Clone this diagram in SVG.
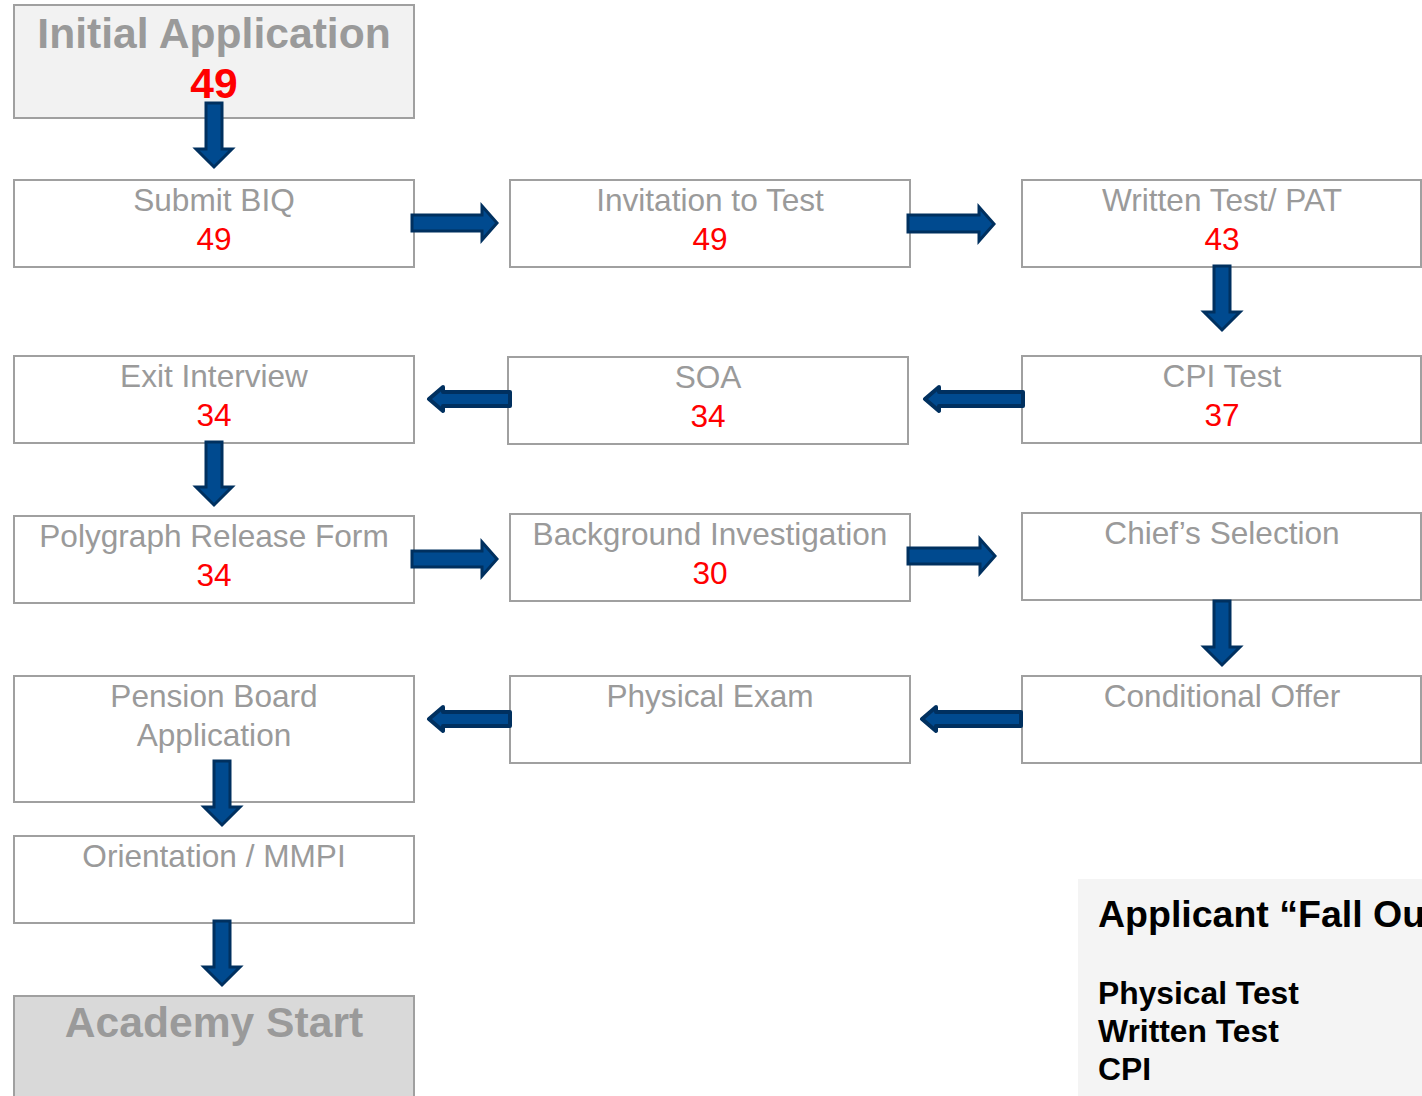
<svg xmlns="http://www.w3.org/2000/svg" width="1422" height="1096" viewBox="0 0 1422 1096">
<style>
.box{fill:#ffffff;stroke:#a0a0a0;stroke-width:2}
.t{font-family:"Liberation Sans",Arial,sans-serif;font-size:31.6px;fill:#9a9a9a;text-anchor:middle}
.n{font-family:"Liberation Sans",Arial,sans-serif;font-size:31.6px;fill:#ff0000;text-anchor:middle}
.tb{font-family:"Liberation Sans",Arial,sans-serif;font-size:42.6px;font-weight:bold;fill:#9a9a9a;text-anchor:middle}
.nb{font-family:"Liberation Sans",Arial,sans-serif;font-size:42.6px;font-weight:bold;fill:#ff0000;text-anchor:middle}
.lg{font-family:"Liberation Sans",Arial,sans-serif;font-weight:bold;fill:#000000}
.arr{fill:#004a8f;stroke:#00305f;stroke-width:3}
.arrl{fill:#004a8f;stroke:#00305f;stroke-width:4;stroke-linejoin:round}
</style>
<rect width="1422" height="1096" fill="#ffffff"/>

<g id="initial-application">
<rect class="box" x="14" y="5" width="400" height="113" style="fill:#f2f2f2"/>
<text class="tb" x="214" y="48">Initial Application</text>
<text class="nb" x="214" y="98">49</text>
</g>
<g id="submit-biq">
<rect class="box" x="14" y="180" width="400" height="87"/>
<text class="t" x="214" y="211">Submit BIQ</text>
<text class="n" x="214" y="250">49</text>
</g>
<g id="invitation-to-test">
<rect class="box" x="510" y="180" width="400" height="87"/>
<text class="t" x="710" y="211">Invitation to Test</text>
<text class="n" x="710" y="250">49</text>
</g>
<g id="written-test">
<rect class="box" x="1022" y="180" width="399" height="87"/>
<text class="t" x="1222" y="211">Written Test/ PAT</text>
<text class="n" x="1222" y="250">43</text>
</g>
<g id="exit-interview">
<rect class="box" x="14" y="356" width="400" height="87"/>
<text class="t" x="214" y="387">Exit Interview</text>
<text class="n" x="214" y="426">34</text>
</g>
<g id="soa">
<rect class="box" x="508" y="357" width="400" height="87"/>
<text class="t" x="708" y="388">SOA</text>
<text class="n" x="708" y="427">34</text>
</g>
<g id="cpi-test">
<rect class="box" x="1022" y="356" width="399" height="87"/>
<text class="t" x="1222" y="387">CPI Test</text>
<text class="n" x="1222" y="426">37</text>
</g>
<g id="polygraph-release-form">
<rect class="box" x="14" y="516" width="400" height="87"/>
<text class="t" x="214" y="547">Polygraph Release Form</text>
<text class="n" x="214" y="586">34</text>
</g>
<g id="background-investigation">
<rect class="box" x="510" y="514" width="400" height="87"/>
<text class="t" x="710" y="545">Background Investigation</text>
<text class="n" x="710" y="584">30</text>
</g>
<g id="chiefs-selection">
<rect class="box" x="1022" y="513" width="399" height="87"/>
<text class="t" x="1222" y="544">Chief’s Selection</text>
</g>
<g id="pension-board-application">
<rect class="box" x="14" y="676" width="400" height="126"/>
<text class="t" x="214" y="707">Pension Board</text>
<text class="t" x="214" y="746">Application</text>
</g>
<g id="physical-exam">
<rect class="box" x="510" y="676" width="400" height="87"/>
<text class="t" x="710" y="707">Physical Exam</text>
</g>
<g id="conditional-offer">
<rect class="box" x="1022" y="676" width="399" height="87"/>
<text class="t" x="1222" y="707">Conditional Offer</text>
</g>
<g id="orientation-mmpi">
<rect class="box" x="14" y="836" width="400" height="87"/>
<text class="t" x="214" y="867">Orientation / MMPI</text>
</g>
<g id="academy-start">
<rect class="box" x="14" y="996" width="400" height="110" style="fill:#d9d9d9"/>
<text class="tb" x="214" y="1037">Academy Start</text>
</g>
<g id="fall-out-legend">
<rect x="1078" y="879" width="350" height="220" fill="#f4f4f4"/>
<text class="lg" x="1098" y="927" font-size="37.5">Applicant “Fall Out”</text>
<text class="lg" x="1098" y="1004" font-size="31.8">Physical Test</text>
<text class="lg" x="1098" y="1042" font-size="31.8">Written Test</text>
<text class="lg" x="1098" y="1080" font-size="31.8">CPI</text>
</g>

<g id="connectors">
<path class="arr" d="M206,103 H222 V149 H232 L214,167 L196,149 H206 Z"/>
<path class="arr" d="M1214,266 H1230 V312 H1240 L1222,330 L1204,312 H1214 Z"/>
<path class="arr" d="M206,442 H222 V487 H232 L214,505 L196,487 H206 Z"/>
<path class="arr" d="M1214,601 H1230 V647 H1240 L1222,665 L1204,647 H1214 Z"/>
<path class="arr" d="M214,761 H230 V807 H240 L222,825 L204,807 H214 Z"/>
<path class="arr" d="M214,921 H230 V967 H240 L222,985 L204,967 H214 Z"/>
<path class="arr" d="M412,215 H482 V206 L497,223 L482,240 V231 H412 Z"/>
<path class="arr" d="M908,215 H979 V207 L994,224 L979,241 V232 H908 Z"/>
<path class="arr" d="M412,551 H482 V542 L497,559 L482,576 V567 H412 Z"/>
<path class="arr" d="M908,548 H980 V539 L995,556 L980,573 V564 H908 Z"/>
<path class="arrl" d="M510,392 H443 V387 L429,399 L443,411 V406 H510 Z"/>
<path class="arrl" d="M1023,392 H939 V387 L925,399 L939,411 V406 H1023 Z"/>
<path class="arrl" d="M510,712 H443 V707 L429,719 L443,731 V726 H510 Z"/>
<path class="arrl" d="M1021,712 H936 V707 L922,719 L936,731 V726 H1021 Z"/>
</g>
</svg>
